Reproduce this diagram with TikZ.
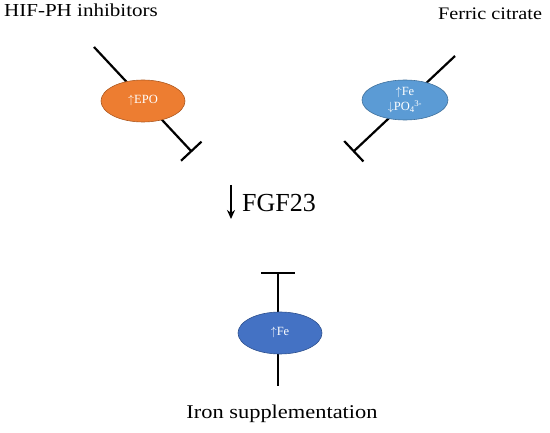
\documentclass[tikz,border=0pt]{standalone}
\usepackage{fontspec}
\setmainfont{Liberation Serif}
\newfontfamily\widefont{Liberation Serif}[FakeStretch=1.15]
\usetikzlibrary{arrows.meta,shapes.geometric}
\definecolor{epoor}{HTML}{ED7D31}
\definecolor{epobd}{HTML}{AE5A21}
\definecolor{febl}{HTML}{5B9BD5}
\definecolor{febd}{HTML}{41719C}
\definecolor{fedk}{HTML}{4472C4}
\definecolor{fedkbd}{HTML}{2F528F}
\tikzset{
  x=1pt, y=-1pt,
  inhib/.style={line width=2.2pt, -{Bar[width=28pt,line width=2.2pt]}},
  blob/.style={ellipse, draw, line width=0.6pt, minimum width=84pt, minimum height=42pt, inner sep=0pt, text=white, font=\fontsize{12.5}{15}\selectfont, align=center},
  lab/.style={inner sep=0pt, anchor=base},
}
\begin{document}
\begin{tikzpicture}
\useasboundingbox (0,0) rectangle (550,433);
\node[lab, font=\widefont\fontsize{18.3}{20}\selectfont] (hif) at (81,17) {HIF-PH inhibitors};
\node[lab, font=\widefont\fontsize{17.6}{20}\selectfont] (fc) at (490,20) {Ferric citrate};
\coordinate (l0) at (94,47);
\coordinate (l1) at (192,152);
\draw[inhib] (l0) -- (l1);
\node[blob, fill=epoor, draw=epobd] (epo) at (143,101) {$\uparrow$EPO};
\coordinate (r0) at (455,56);
\coordinate (r1) at (353,152);
\draw[inhib] (r0) -- (r1);
\node[blob, fill=febl, draw=febd, minimum width=86pt, minimum height=40pt] (fe1) at (405,100) {$\uparrow$Fe\\$\downarrow$PO\textsubscript{4}\kern-0.5pt\textsuperscript{3-}};
\coordinate (a0) at (231,185);
\coordinate (a1) at (231,219);
\draw[line width=2.2pt, -{Stealth[length=9pt,width=8pt]}] (a0) -- (a1);
\node[font=\fontsize{26}{28}\selectfont, inner sep=0pt, anchor=base west] (fgf) at (242,212) {FGF23};
\coordinate (b0) at (278,386);
\coordinate (b1) at (278,272);
\draw[line width=2.2pt, -{Bar[width=34pt,line width=2.2pt]}] (b0) -- (b1);
\node[blob, fill=fedk, draw=fedkbd] (fe2) at (280,333) {$\uparrow$Fe};
\node[lab, font=\widefont\fontsize{19.5}{22}\selectfont] (iron) at (282,418) {Iron supplementation};
\end{tikzpicture}
\end{document}
